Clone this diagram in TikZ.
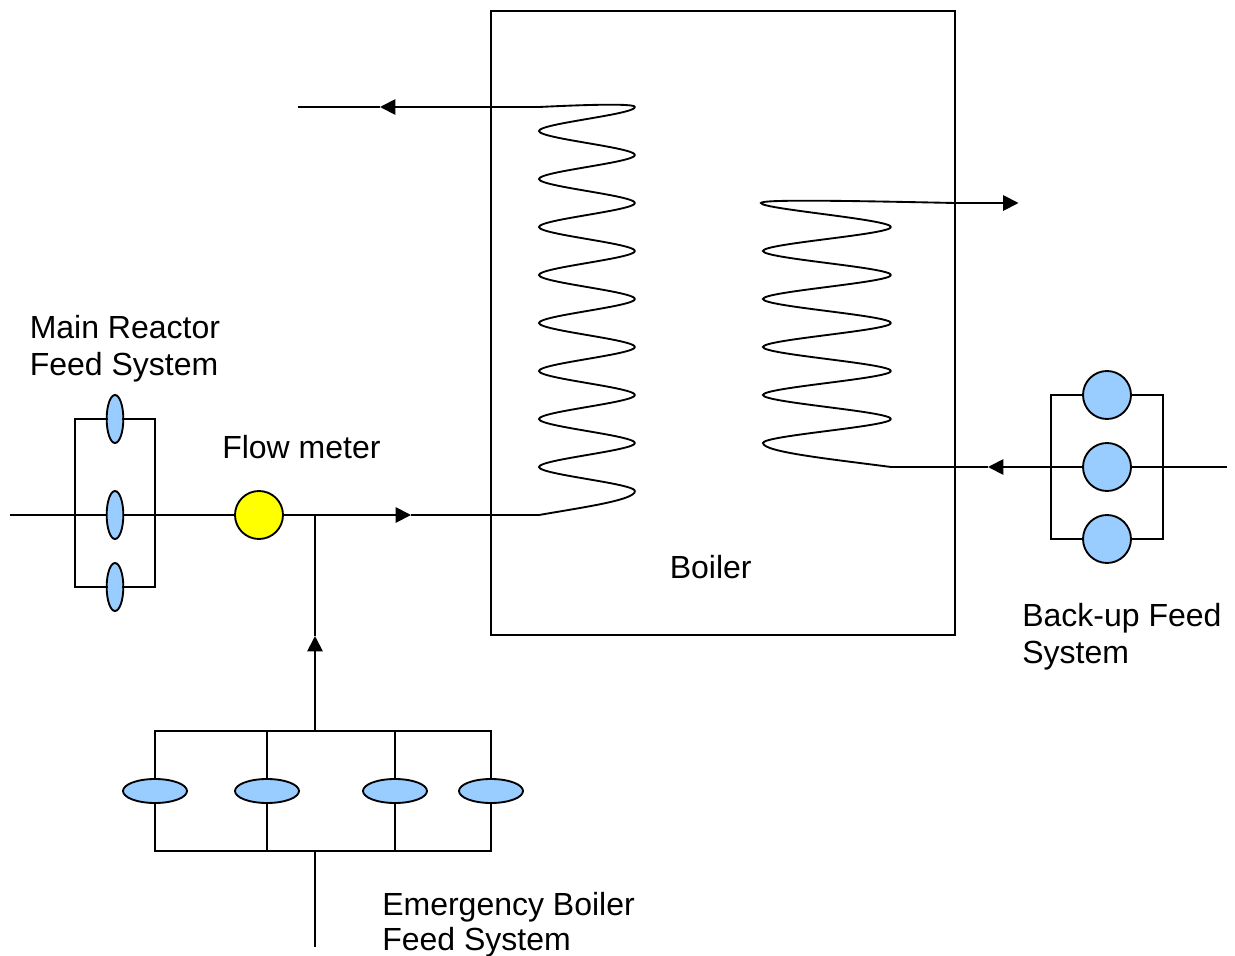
\documentclass[tikz,border=0pt]{standalone}
\usepackage{fontspec}
\setmainfont{Liberation Sans}
\usepackage{xcolor}
\definecolor{PumpBlue}{HTML}{99CCFF}
\definecolor{MeterYellow}{HTML}{FFFF00}
\usetikzlibrary{arrows.meta,shapes.geometric}

\begin{document}
\begin{tikzpicture}[x=0.75pt,y=-0.75pt,>={Triangle[length=11.5pt,width=11.5pt]},every node/.style={font=\fontsize{24}{27.7}\selectfont, align=left},
  pipe/.style={line width=1.4pt, black},
  railpipe/.style={pipe, line cap=rect},
  pumpnode/.style={draw, line width=1.4pt, ellipse, fill=PumpBlue, inner sep=0pt, outer sep=0pt},
  tallpump/.style={pumpnode, minimum width=12.5pt, minimum height=36pt},
  widepump/.style={pumpnode, minimum width=48pt, minimum height=18pt},
  roundpump/.style={pumpnode, minimum width=36pt, minimum height=36pt},
  labelnode/.style={inner sep=0pt, anchor=base west}]
  \useasboundingbox (0,0) rectangle (1235,956);

  \node[draw, line width=1.4pt, inner sep=0pt, minimum width=348pt, minimum height=468pt] (boiler) at (723,323) {};
  \node[labelnode] (boilerlabel) at (669.5,578) {Boiler};

  \node[tallpump] (mainA) at (115,419) {};
  \node[tallpump] (mainB) at (115,515) {};
  \node[tallpump] (mainC) at (115,587) {};
  \node[roundpump, fill=MeterYellow] (meter) at (259,515) {};
  \node[roundpump] (backA) at (1107,395) {};
  \node[roundpump] (backB) at (1107,467) {};
  \node[roundpump] (backC) at (1107,539) {};
  \node[widepump] (emgA) at (155,791) {};
  \node[widepump] (emgB) at (267,791) {};
  \node[widepump] (emgC) at (395,791) {};
  \node[widepump] (emgD) at (491,791) {};

  \node[labelnode] (mainlabel) at (29.5,338) {Main Reactor};
  \node[labelnode] (mainlabelb) at (29.5,375) {Feed System};
  \node[labelnode] (meterlabel) at (222,458) {Flow meter};
  \node[labelnode] (backlabel) at (1022,626) {Back-up Feed};
  \node[labelnode] (backlabelb) at (1022,663) {System};
  \node[labelnode] (emglabel) at (382,915) {Emergency Boiler};
  \node[labelnode] (emglabelb) at (382,950) {Feed System};

  \coordinate (mainin) at (10,515);
  \coordinate (mainL) at (75,515);
  \coordinate (mainR) at (155,515);
  \coordinate (junction) at (315,515);
  \coordinate (feedtip) at (411,515);
  \coordinate (coilAin) at (539,515);
  \coordinate (coilAout) at (539,107);
  \coordinate (returntip) at (380,107);
  \coordinate (returnend) at (298,107);
  \coordinate (coilBin) at (891,467);
  \coordinate (backin) at (1227,467);
  \coordinate (backtip) at (988,467);
  \coordinate (backL) at (1051,467);
  \coordinate (backR) at (1163,467);
  \coordinate (steam) at (955,203);
  \coordinate (steamtip) at (1018.5,203);
  \coordinate (emgtop) at (315,731);
  \coordinate (emgbot) at (315,851);
  \coordinate (emgin) at (315,947);
  \coordinate (emgtip) at (315,636);

  \draw[pipe] (mainin) -- (mainB);
  \draw[pipe] (mainB) -- (meter);
  \draw[railpipe] (mainA) -- (mainA -| mainL) -- (mainC -| mainL) -- (mainC);
  \draw[railpipe] (mainA) -- (mainA -| mainR) -- (mainC -| mainR) -- (mainC);
  \draw[pipe, ->] (meter) -- (feedtip);
  \draw[pipe] (feedtip) -- (coilAin);
  \draw[pipe, ->] (emgtop) -- (emgtip);
  \draw[pipe] (emgtip) -- (junction);
  \draw[pipe, ->] (coilAout) -- (returntip);
  \draw[pipe] (returntip) -- (returnend);
  \draw[pipe] (backin) -- (backB);
  \draw[pipe, ->] (backB) -- (backtip);
  \draw[pipe] (backtip) -- (coilBin);
  \draw[railpipe] (backA) -- (backA -| backL) -- (backC -| backL) -- (backC);
  \draw[railpipe] (backA) -- (backA -| backR) -- (backC -| backR) -- (backC);
  \draw[pipe, ->] (steam) -- (steamtip);
  \foreach \n in {A,B,C,D} {
    \draw[railpipe] (emg\n) -- (emg\n |- emgtop);
    \draw[railpipe] (emg\n) -- (emg\n |- emgbot);
  }
  \draw[railpipe] (emgA |- emgtop) -- (emgD |- emgtop);
  \draw[railpipe] (emgA |- emgbot) -- (emgD |- emgbot);
  \draw[pipe] (emgbot) -- (emgin);

  \draw[pipe] (coilAout) .. controls (580,105) and (635,103) .. (635,107);
  \foreach \y in {107,155,...,443}
    \draw[pipe] (635,\y) .. controls (635,\y+7.5) and (539,\y+16.5) .. (539,\y+24) .. controls (539,\y+31.5) and (635,\y+40.5) .. (635,\y+48);
  \draw[pipe] (635,491) .. controls (635,500) and (585,507) .. (coilAin);

  \draw[pipe] (steam) .. controls (860,201) and (761,199) .. (761,203) .. controls (761,209) and (891,219.5) .. (891,227);
  \foreach \y in {227,275,...,371}
    \draw[pipe] (891,\y) .. controls (891,\y+7.5) and (763,\y+16.5) .. (763,\y+24) .. controls (763,\y+31.5) and (891,\y+40.5) .. (891,\y+48);
  \draw[pipe] (891,419) .. controls (891,426.5) and (763,435.5) .. (763,443) .. controls (763,452) and (830,459) .. (coilBin);
\end{tikzpicture}
\end{document}
